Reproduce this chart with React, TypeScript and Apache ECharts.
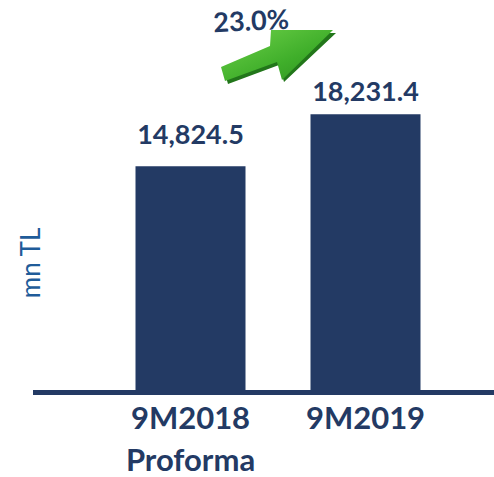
import React, { useEffect, useRef } from "react";
import * as echarts from "echarts";

const categories = ["9M2018\nProforma", "9M2019"];
const values = [14824.5, 18231.4];
const growthLabel = "23.0%";
const unitLabel = "mn TL";

export default function App() {
  const ref = useRef<HTMLDivElement>(null);
  useEffect(() => {
    if (!ref.current) return;
    const chart = echarts.init(ref.current, null, { renderer: "svg" });
    const navy = "#233A64";
    const labelDistances = [19, 10];
    chart.setOption({
      animation: false,
      backgroundColor: "#ffffff",
      grid: { left: 103, right: 41, top: 60, bottom: 85, containLabel: false, outerBoundsMode: "none" },
      xAxis: {
        type: "category",
        data: categories,
        axisLine: { show: false },
        axisTick: { show: false },
        axisLabel: {
          color: navy,
          fontFamily: "Lato",
          fontWeight: "bold",
          fontSize: 31,
          lineHeight: 42,
          margin: 4,
        },
      },
      yAxis: {
        type: "value",
        min: 0,
        max: 21800,
        show: false,
        splitLine: { show: false },
      },
      series: [
        {
          type: "bar",
          data: values.map((v, i) => ({ value: v, label: { distance: labelDistances[i] } })),
          barWidth: 110,
          itemStyle: { color: navy },
          label: {
            show: true,
            position: "top",
            color: navy,
            fontFamily: "Lato",
            fontWeight: "bold",
            fontSize: 27,
            formatter: (p: any) =>
              p.value.toLocaleString("en-US", { minimumFractionDigits: 1, maximumFractionDigits: 1 }),
          },
        },
      ],
      graphic: [
        {
          type: "rect",
          shape: { x: 33, y: 390, width: 461, height: 5 },
          style: { fill: navy },
          z: 10,
        },
        {
          type: "text",
          x: 30,
          y: 263,
          rotation: Math.PI / 2,
          style: {
            text: unitLabel,
            fill: "#1F5C99",
            fontFamily: "Lato",
            fontSize: 26,
            align: "center",
            verticalAlign: "middle",
          },
        },
        {
          type: "polygon",
          shape: {
            points: [
              [224, 70], [272, 50], [273, 33], [336, 33], [284, 82], [279, 65], [228, 84],
            ],
          },
          style: { fill: "#22761a" },
        },
        {
          type: "polygon",
          shape: {
            points: [
              [221, 67], [270, 46], [271, 30], [333, 30], [282, 80], [277, 62], [225, 81],
            ],
          },
          style: {
            fill: new echarts.graphic.LinearGradient(0, 0, 1, 1, [
              { offset: 0, color: "#6fd24a" },
              { offset: 0.6, color: "#3fae2a" },
              { offset: 1, color: "#2f8f20" },
            ]),
          },
        },
        {
          type: "text",
          x: 251,
          y: 20,
          rotation: 0.05,
          style: {
            text: growthLabel,
            fill: navy,
            fontFamily: "Lato",
            fontWeight: "bold",
            fontSize: 27,
            align: "center",
            verticalAlign: "middle",
          },
        },
      ],
    });
    return () => chart.dispose();
  }, []);
  return <div ref={ref} style={{ width: 494, height: 477, position: "absolute", left: 0, top: 0 }} />;
}
